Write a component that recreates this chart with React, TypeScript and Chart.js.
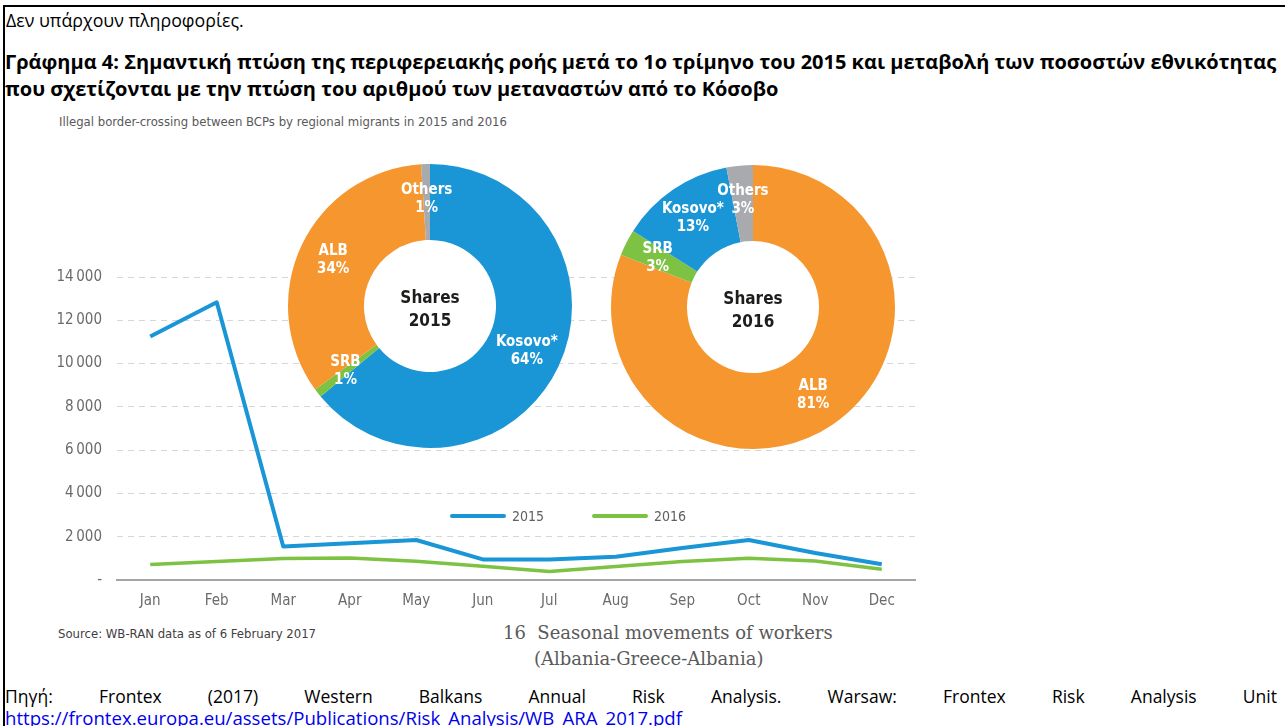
import React, { useEffect, useRef } from "react";
import { Chart, registerables } from "chart.js";

Chart.register(...registerables);

// ---------- data ----------
const months = ["Jan", "Feb", "Mar", "Apr", "May", "Jun", "Jul", "Aug", "Sep", "Oct", "Nov", "Dec"];
const crossings2015 = [11250, 12830, 1550, 1700, 1850, 950, 950, 1070, 1480, 1850, 1250, 730];
const crossings2016 = [720, 850, 990, 1020, 870, 640, 390, 620, 850, 1000, 880, 500];
const yMin = 0;
const yMax = 14000;
const yStep = 2000;

const shareLabels2015 = ["Kosovo*", "SRB", "ALB", "Others"];
const shares2015 = [64, 1, 34, 1];
const shareLabels2016 = ["ALB", "SRB", "Kosovo*", "Others"];
const shares2016 = [81, 3, 13, 3];

// ---------- styles ----------
const BLUE = "#1a96d6";
const GREEN = "#7dc242";
const ORANGE = "#f5962f";
const GRAY = "#a8aaad";
const colorOf: Record<string, string> = { "Kosovo*": BLUE, SRB: GREEN, ALB: ORANGE, Others: GRAY };
const COND = "'Liberation Sans Narrow', 'DejaVu Sans Condensed', 'Arial Narrow', sans-serif";
const GREEK = "'Open Sans', 'Noto Sans', sans-serif";

const legendPlugin = {
  id: "inlineLegend",
  afterDraw(chart: any) {
    const { ctx, chartArea } = chart;
    const items = chart.data.datasets.map((d: any, i: number) => ({
      label: d.label,
      color: d.borderColor,
      x: chartArea.left + 335 + i * 142,
    }));
    const y = chartArea.top + 239;
    ctx.save();
    items.forEach((it: any) => {
      ctx.strokeStyle = it.color;
      ctx.lineWidth = 4;
      ctx.lineCap = "round";
      ctx.beginPath();
      ctx.moveTo(it.x, y);
      ctx.lineTo(it.x + 52, y);
      ctx.stroke();
      ctx.fillStyle = "#5f6062";
      ctx.font = `14px ${COND}`;
      ctx.textBaseline = "middle";
      ctx.textAlign = "left";
      ctx.fillText(it.label, it.x + 60, y + 1);
    });
    ctx.restore();
  },
};

function LineChart() {
  const ref = useRef<HTMLCanvasElement>(null);
  useEffect(() => {
    const chart = new Chart(ref.current!, {
      type: "line",
      data: {
        labels: months,
        datasets: [
          { label: "2015", data: crossings2015, borderColor: BLUE, borderWidth: 4, pointRadius: 0, tension: 0, borderJoinStyle: "round" as any },
          { label: "2016", data: crossings2016, borderColor: GREEN, borderWidth: 3.5, pointRadius: 0, tension: 0, borderJoinStyle: "round" as any },
        ],
      },
      options: {
        animation: false,
        responsive: false,
        events: [],
        layout: { padding: { left: 0, right: 25, top: 147, bottom: 0 } },
        plugins: { legend: { display: false }, tooltip: { enabled: false }, title: { display: false } },
        scales: {
          x: {
            offset: true,
            grid: { display: false, drawTicks: false },
            border: { display: true, color: "#a3a5a8", width: 2 },
            ticks: { color: "#6a6b6d", font: { family: COND, size: 15 }, padding: 12, maxRotation: 0, autoSkip: false },
            afterFit: (s: any) => { s.height = 40; },
          },
          y: {
            min: yMin,
            max: yMax,
            grid: {
              drawTicks: false,
              color: (c: any) => (c.tick && c.tick.value === 0 ? "rgba(0,0,0,0)" : "#d6d6d6"),
              lineWidth: 1,
            },
            border: { display: false, dash: [6, 5] },
            ticks: {
              stepSize: yStep,
              color: "#6a6b6d",
              font: { family: COND, size: 15 },
              padding: 15,
              callback: (v: any) => (v === 0 ? "-" : Number(v).toLocaleString("en-US").replace(/,/g, "\u2009")),
            },
            afterFit: (s: any) => { s.width = 117; },
          },
        },
      },
      plugins: [legendPlugin],
    });
    return () => chart.destroy();
  }, []);
  return <canvas ref={ref} width={940} height={490} style={{ position: "absolute", left: 0, top: 130, width: 940, height: 490 }} />;
}

const donutPlugin = {
  id: "donutDecor",
  beforeDatasetsDraw(chart: any) {
    const meta = chart.getDatasetMeta(0);
    const a = meta.data[0];
    if (!a) return;
    const { ctx } = chart;
    ctx.save();
    ctx.fillStyle = "#ffffff";
    ctx.beginPath();
    ctx.arc(a.x, a.y, a.outerRadius, 0, Math.PI * 2);
    ctx.fill();
    ctx.restore();
  },
  afterDatasetsDraw(chart: any, _args: any, opts: any) {
    const meta = chart.getDatasetMeta(0);
    const { ctx } = chart;
    const labels = chart.data.labels;
    const values = chart.data.datasets[0].data;
    ctx.save();
    ctx.textAlign = "center";
    ctx.textBaseline = "middle";
    meta.data.forEach((arc: any, i: number) => {
      const mid = (arc.startAngle + arc.endAngle) / 2;
      const r = (arc.innerRadius + arc.outerRadius) / 2 + 3;
      const x = arc.x + Math.cos(mid) * r;
      const y = arc.y + Math.sin(mid) * r;
      ctx.fillStyle = "#ffffff";
      ctx.font = `bold 15px ${COND}`;
      ctx.fillText(labels[i], x, y - 9);
      ctx.fillText(values[i] + "%", x, y + 9);
    });
    const c = meta.data[0];
    ctx.fillStyle = "#1d1d1b";
    ctx.font = `bold 17px ${COND}`;
    ctx.fillText("Shares", c.x, c.y - 7);
    ctx.fillText(opts.year, c.x, c.y + 16);
    ctx.restore();
  },
};

function Donut({ labels, values, year, left, top }: { labels: string[]; values: number[]; year: string; left: number; top: number }) {
  const ref = useRef<HTMLCanvasElement>(null);
  useEffect(() => {
    const chart = new Chart(ref.current!, {
      type: "doughnut",
      data: {
        labels,
        datasets: [{ data: values, backgroundColor: labels.map((l) => colorOf[l]), borderWidth: 0 }],
      },
      options: {
        animation: false,
        responsive: false,
        events: [],
        cutout: "46.5%",
        layout: { padding: 8 },
        plugins: { legend: { display: false }, tooltip: { enabled: false }, donutDecor: { year } } as any,
      },
      plugins: [donutPlugin],
    });
    return () => chart.destroy();
  }, []);
  return <canvas ref={ref} width={300} height={300} style={{ position: "absolute", left, top, width: 300, height: 300 }} />;
}

export default function App() {
  const abs = (l: number, t: number, extra: React.CSSProperties = {}): React.CSSProperties => ({
    position: "absolute",
    left: l,
    top: t,
    whiteSpace: "nowrap",
    ...extra,
  });
  return (
    <div style={{ position: "absolute", left: 0, top: 0, width: 1285, height: 726, overflow: "hidden", background: "#fff" }}>
      <div style={{ position: "absolute", left: 3, top: 5, width: 1290, height: 760, borderTop: "2px solid #000", borderLeft: "2px solid #000" }} />
      <div style={abs(6, 8, { font: `17.8px ${GREEK}`, color: "#000", lineHeight: "24px" })}>Δεν υπάρχουν πληροφορίες.</div>
      <div style={abs(5, 48, { font: `bold 20px ${GREEK}`, color: "#000", lineHeight: "27px" })}>
        Γράφημα 4: Σημαντική πτώση της περιφερειακής ροής μετά το 1ο τρίμηνο του 2015 και μεταβολή των ποσοστών εθνικότητας
        <br />
        που σχετίζονται με την πτώση του αριθμού των μεταναστών από το Κόσοβο
      </div>
      <div style={abs(59, 114, { font: `13px ${COND}`, color: "#58595b" })}>
        Illegal border-crossing between BCPs by regional migrants in 2015 and 2016
      </div>
      <LineChart />
      <Donut labels={shareLabels2015} values={shares2015} year="2015" left={280} top={156} />
      <Donut labels={shareLabels2016} values={shares2016} year="2016" left={603} top={157} />
      <div style={abs(58, 626, { font: `13px ${COND}`, color: "#3f4042" })}>Source: WB-RAN data as of 6 February 2017</div>
      <div style={abs(503, 620, { font: `18px 'DejaVu Serif', serif`, color: "#5a5a5a", lineHeight: "26px" })}>
        16&nbsp;&nbsp;Seasonal movements of workers
        <br />
        <span style={{ marginLeft: 31 }}>(Albania-Greece-Albania)</span>
      </div>
      <div style={abs(5, 684, { font: `17.5px ${GREEK}`, color: "#000", width: 1272, textAlign: "justify", textAlignLast: "justify" as any, whiteSpace: "normal", lineHeight: "24px" })}>
        Πηγή: Frontex (2017) Western Balkans Annual Risk Analysis. Warsaw: Frontex Risk Analysis Unit
      </div>
      <div style={abs(5, 706, { font: `18.6px ${GREEK}`, color: "#0000ee", textDecoration: "underline", lineHeight: "24px" })}>
        https://frontex.europa.eu/assets/Publications/Risk_Analysis/WB_ARA_2017.pdf
      </div>
    </div>
  );
}
